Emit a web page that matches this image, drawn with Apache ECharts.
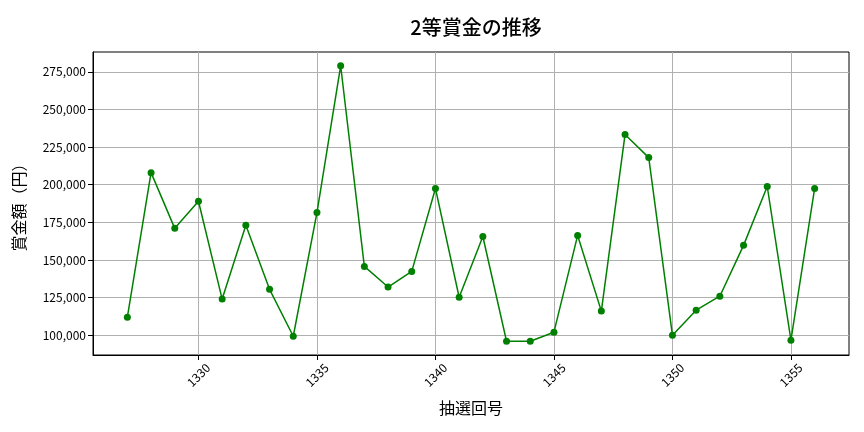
<!DOCTYPE html>
<html>
<head>
<meta charset="utf-8">
<script src="https://cdn.jsdelivr.net/npm/echarts@6/dist/echarts.min.js"></script>
<style>
    html, body { margin: 0; padding: 0; background: #fff; }
    #chart { width: 864px; height: 432px; }
</style>
</head>
<body>
<div id="chart"></div>
<script>
    // 抽選回号
    var draws = [1327, 1328, 1329, 1330, 1331, 1332, 1333, 1334, 1335, 1336,
        1337, 1338, 1339, 1340, 1341, 1342, 1343, 1344, 1345, 1346,
        1347, 1348, 1349, 1350, 1351, 1352, 1353, 1354, 1355, 1356];
    // 2等賞金（円）
    var prizes = [112000, 208000, 171000, 189000, 124000, 173000, 130500, 99300, 181500, 279000,
        145700, 132000, 142400, 197500, 125200, 165600, 96000, 96000, 102000, 166300,
        116000, 233300, 218000, 100000, 116600, 125900, 159700, 198800, 96700, 197500];
    var xTicks = [1330, 1335, 1340, 1345, 1350, 1355];
    var yTicks = [100000, 125000, 150000, 175000, 200000, 225000, 250000, 275000];

    var font = "'Noto Sans CJK JP', 'Noto Sans', sans-serif";

    var points = [];
    for (var i = 0; i < draws.length; i++) {
        points.push([draws[i], prizes[i]]);
    }

    var chart = echarts.init(document.getElementById("chart"));
    var option = {
        backgroundColor: "#fff",
        animation: false,
        title: {
            text: "2等賞金の推移",
            left: 471,
            top: 12,
            textAlign: "center",
            textStyle: {fontFamily: font, fontSize: 20, fontWeight: 500, color: "#000"}
        },
        grid: {
            left: 93,
            right: 15,
            top: 52,
            bottom: 77,
            show: true,
            borderColor: "#000",
            borderWidth: 1,
            containLabel: false
        },
        xAxis: {
            type: "value",
            min: 1325.55,
            max: 1357.45,
            name: "抽選回号",
            nameLocation: "middle",
            nameGap: 45,
            nameTextStyle: {fontFamily: font, fontSize: 16, color: "#000"},
            axisLine: {show: true, onZero: false, lineStyle: {color: "#000", width: 1}},
            axisTick: {show: true, inside: false, length: 5, customValues: xTicks, lineStyle: {color: "#000"}},
            axisLabel: {
                customValues: xTicks,
                rotate: 45,
                align: "center",
                verticalAlign: "middle",
                margin: 20,
                fontFamily: font,
                fontSize: 12,
                color: "#000",
                formatter: function (v) {
                    return String(v);
                }
            },
            splitLine: {show: true, lineStyle: {color: "#b0b0b0", width: 1}}
        },
        yAxis: {
            type: "value",
            min: 86850,
            max: 288150,
            name: "賞金額（円）",
            nameLocation: "middle",
            nameGap: 66,
            nameRotate: 90,
            nameTextStyle: {fontFamily: font, fontSize: 16, color: "#000"},
            axisLine: {show: true, onZero: false, lineStyle: {color: "#000", width: 1}},
            axisTick: {show: true, inside: false, length: 5, customValues: yTicks, lineStyle: {color: "#000"}},
            axisLabel: {
                customValues: yTicks,
                margin: 7,
                fontFamily: font,
                fontSize: 12,
                color: "#000",
                formatter: function (v) {
                    return Number(v).toLocaleString("en-US");
                }
            },
            splitLine: {show: true, lineStyle: {color: "#b0b0b0", width: 1}}
        },
        series: [{
            name: "2等賞金",
            type: "line",
            data: points,
            color: "#008000",
            symbol: "circle",
            symbolSize: 7,
            lineStyle: {width: 1.5, color: "#008000"},
            itemStyle: {color: "#008000"}
        }]
    };
    chart.setOption(option);
</script>
</body>
</html>
